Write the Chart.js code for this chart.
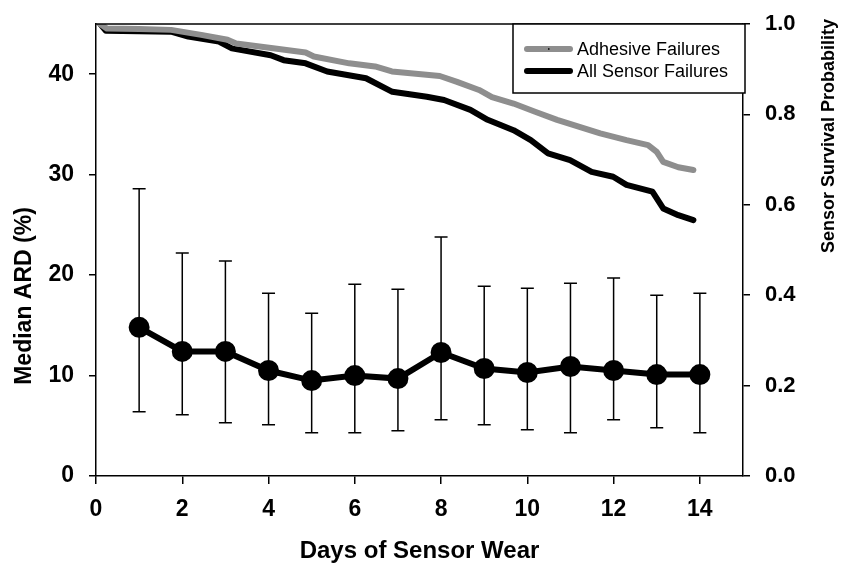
<!DOCTYPE html>
<html><head><meta charset="utf-8">
<script src="https://cdn.jsdelivr.net/npm/chart.js@4.4.0/dist/chart.umd.min.js"></script>
<style>html,body{margin:0;padding:0;background:#fff}#wrap{width:843px;height:566px}</style>
</head><body><div id="wrap"><canvas id="c" width="843" height="566"></canvas></div>
<script>
const FONT = '"Liberation Sans", Arial, Helvetica, sans-serif';

// Median ARD (%) by day, with error bars
const days      = [1, 2, 3, 4, 5, 6, 7, 8, 9, 10, 11, 12, 13, 14];
const ardMedian = [14.8, 12.4, 12.4, 10.5, 9.5, 10.0, 9.7, 12.3, 10.7, 10.3, 10.9, 10.5, 10.1, 10.1];
const ardLow    = [6.4, 6.1, 5.3, 5.1, 4.3, 4.3, 4.5, 5.6, 5.1, 4.6, 4.3, 5.6, 4.8, 4.3];
const ardHigh   = [28.6, 22.2, 21.4, 18.2, 16.2, 19.1, 18.6, 23.8, 18.9, 18.7, 19.2, 19.7, 18.0, 18.2];

// Survival curves (right axis)
const adhesiveDays = [0.1, 0.25, 1.0, 1.74, 2.44, 3.05, 3.25, 4.15, 4.86, 5.05, 5.87, 6.47, 6.86, 7.97, 8.37, 8.88, 9.18, 9.68, 10.18, 10.69, 11.19, 11.69, 12.3, 12.8, 13.0, 13.15, 13.5, 13.85];
const adhesiveSurv = [1.0, 0.99, 0.989, 0.987, 0.976, 0.965, 0.957, 0.946, 0.937, 0.928, 0.913, 0.906, 0.895, 0.885, 0.872, 0.854, 0.838, 0.824, 0.806, 0.788, 0.773, 0.758, 0.743, 0.732, 0.717, 0.695, 0.683, 0.677];
const allDays = [0.1, 0.23, 1.0, 1.74, 2.14, 2.85, 3.15, 4.05, 4.35, 4.86, 5.36, 6.26, 6.87, 7.67, 8.07, 8.68, 9.08, 9.68, 10.08, 10.48, 10.99, 11.49, 11.99, 12.3, 12.9, 13.15, 13.5, 13.85];
const allSurv = [1.0, 0.985, 0.984, 0.983, 0.972, 0.961, 0.946, 0.931, 0.920, 0.913, 0.895, 0.880, 0.850, 0.839, 0.832, 0.810, 0.788, 0.765, 0.743, 0.714, 0.699, 0.673, 0.662, 0.644, 0.629, 0.592, 0.577, 0.566];

const xTicks = [0, 2, 4, 6, 8, 10, 12, 14];
const leftTicks = [0, 10, 20, 30, 40];
const rightTicks = [0, 0.2, 0.4, 0.6, 0.8, 1.0];

const seriesNames = ['Adhesive Failures', 'All Sensor Failures'];
const leftTitle = 'Median ARD (%)';
const rightTitle = 'Sensor Survival Probability';
const xTitle = 'Days of Sensor Wear';

const zip = (xs, ys) => xs.map((x, i) => ({x: x, y: ys[i]}));

const extras = {
  id: 'extras',
  beforeDatasetsDraw(chart) {
    const ctx = chart.ctx, xs = chart.scales.x, ys = chart.scales.y;
    ctx.save();
    ctx.strokeStyle = '#000';
    ctx.lineWidth = 1.5;
    days.forEach((d, i) => {
      const px = xs.getPixelForValue(d);
      const top = ys.getPixelForValue(ardHigh[i]);
      const bot = ys.getPixelForValue(ardLow[i]);
      ctx.beginPath();
      ctx.moveTo(px, top); ctx.lineTo(px, bot);
      ctx.moveTo(px - 6.5, top); ctx.lineTo(px + 6.5, top);
      ctx.moveTo(px - 6.5, bot); ctx.lineTo(px + 6.5, bot);
      ctx.stroke();
    });
    ctx.restore();
  },
  afterDraw(chart) {
    const ctx = chart.ctx, ca = chart.chartArea;
    ctx.save();
    // top frame line
    ctx.strokeStyle = '#000';
    ctx.lineWidth = 1.5;
    ctx.beginPath();
    ctx.moveTo(ca.left, ca.top); ctx.lineTo(ca.right, ca.top);
    ctx.stroke();
    // legend box
    const bx = 513, by = ca.top, bw = ca.right + 2 - 513, bh = 69;
    ctx.fillStyle = '#fff';
    ctx.fillRect(bx, by, bw, bh);
    ctx.strokeRect(bx, by, bw, bh);
    const rows = [ca.top + 25, ca.top + 47];
    [0, 1].forEach(k => {
      const ds = chart.data.datasets[k];
      ctx.strokeStyle = ds.borderColor;
      ctx.lineWidth = 6;
      ctx.lineCap = 'round';
      ctx.beginPath();
      ctx.moveTo(527, rows[k]); ctx.lineTo(570, rows[k]);
      ctx.stroke();
      ctx.fillStyle = '#000';
      ctx.font = '18px ' + FONT;
      ctx.textAlign = 'left';
      ctx.textBaseline = 'middle';
      ctx.fillText(ds.label, 577, rows[k] + 1);
    });
    // small mark on gray legend sample
    ctx.fillStyle = '#222';
    ctx.fillRect(548, rows[0] - 1, 1.5, 2);
    // axis titles (vertical)
    ctx.fillStyle = '#000';
    ctx.textAlign = 'center';
    ctx.textBaseline = 'middle';
    ctx.save();
    ctx.translate(25, 296);
    ctx.rotate(-Math.PI / 2);
    ctx.font = 'bold 23px ' + FONT;
    ctx.fillText(leftTitle, 0, 0);
    ctx.restore();
    ctx.save();
    ctx.translate(829, 136);
    ctx.rotate(-Math.PI / 2);
    ctx.font = 'bold 18px ' + FONT;
    ctx.fillText(rightTitle, 0, 0);
    ctx.restore();
    ctx.restore();
  }
};

const tickFont = {family: FONT, size: 23, weight: 'bold'};
const noPad = s => { s.paddingTop = 0; s.paddingBottom = 0; };

new Chart(document.getElementById('c'), {
  type: 'line',
  data: {
    datasets: [
      {label: seriesNames[0], data: zip(adhesiveDays, adhesiveSurv), yAxisID: 'y2',
       borderColor: '#8e8e8e', borderWidth: 6, pointRadius: 0, tension: 0, borderCapStyle: 'round', borderJoinStyle: 'round'},
      {label: seriesNames[1], data: zip(allDays, allSurv), yAxisID: 'y2',
       borderColor: '#000', borderWidth: 6, pointRadius: 0, tension: 0, borderCapStyle: 'round', borderJoinStyle: 'round'},
      {label: 'Median ARD', data: zip(days, ardMedian), yAxisID: 'y',
       borderColor: '#000', borderWidth: 6, pointRadius: 7.5, pointBackgroundColor: '#000', pointBorderColor: '#000', tension: 0}
    ]
  },
  options: {
    responsive: false,
    animation: false,
    devicePixelRatio: 1,
    layout: {padding: {top: 24, left: 0, right: 0, bottom: 0}},
    plugins: {legend: {display: false}, tooltip: {enabled: false}},
    scales: {
      x: {
        type: 'linear', position: 'bottom', min: 0, max: 15,
        afterBuildTicks: s => { s.ticks = xTicks.map(v => ({value: v})); },
        afterFit: s => { s.height = 90; s.paddingLeft = 0; s.paddingRight = 0; },
        ticks: {font: tickFont, color: '#000', padding: 12, autoSkip: false, maxRotation: 0},
        grid: {drawOnChartArea: false, drawTicks: true, tickLength: 8, color: '#000', lineWidth: 1.5},
        border: {color: '#000', width: 1.5},
        title: {display: true, text: xTitle, color: '#000', font: {family: FONT, size: 24, weight: 'bold'}, padding: {top: 0, bottom: 0}}
      },
      y: {
        type: 'linear', position: 'left', min: 0, max: 45,
        afterBuildTicks: s => { s.ticks = leftTicks.map(v => ({value: v})); },
        afterFit: s => { s.width = 96; noPad(s); },
        ticks: {font: tickFont, color: '#000', padding: 15},
        grid: {drawOnChartArea: false, drawTicks: true, tickLength: 7, color: '#000', lineWidth: 1.5},
        border: {color: '#000', width: 1.5}
      },
      y2: {
        type: 'linear', position: 'right', min: 0, max: 1,
        afterBuildTicks: s => { s.ticks = rightTicks.map(v => ({value: v})); },
        afterFit: s => { s.width = 100; noPad(s); },
        ticks: {font: {family: FONT, size: 22, weight: 'bold'}, color: '#000', padding: 15, callback: v => Number(v).toFixed(1)},
        grid: {drawOnChartArea: false, drawTicks: true, tickLength: 7, color: '#000', lineWidth: 1.5},
        border: {color: '#000', width: 1.5}
      }
    }
  },
  plugins: [extras]
});
</script>
</body></html>
